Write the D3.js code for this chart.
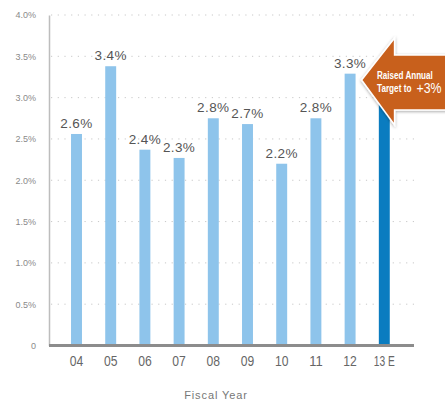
<!DOCTYPE html>
<html>
<head>
<meta charset="utf-8">
<script src="https://cdn.jsdelivr.net/npm/d3@7"></script>
<style>
  html, body { margin: 0; padding: 0; background: #fff; }
  svg { display: block; }
</style>
</head>
<body>
<svg id="chart" width="445" height="402"></svg>
<script>
const categories = ["04", "05", "06", "07", "08", "09", "10", "11", "12", "13 E"];
const values = [2.56, 3.38, 2.37, 2.27, 2.75, 2.68, 2.20, 2.75, 3.29, 3.0];
const labels = ["2.6%", "3.4%", "2.4%", "2.3%", "2.8%", "2.7%", "2.2%", "2.8%", "3.3%", ""];
const estimated = [false, false, false, false, false, false, false, false, false, true];
const yTicks = [0, 0.5, 1.0, 1.5, 2.0, 2.5, 3.0, 3.5, 4.0];
const yTickLabels = ["0", "0.5%", "1.0%", "1.5%", "2.0%", "2.5%", "3.0%", "3.5%", "4.0%"];
const xTitle = "Fiscal Year";
const calloutLines = ["Raised Annual", "Target to"];
const calloutValue = "+3%";

const svg = d3.select("#chart");
const mLeft = 49, mRight = 414, mTop = 15, mBottom = 345.5;

const x = d3.scaleBand().domain(categories).range([59.4, 401.4])
  .paddingInner(0.68).paddingOuter(0.34);
const y = d3.scaleLinear().domain([0, 4]).range([mBottom, mTop]);

// defs: shadow
const defs = svg.append("defs");
const f = defs.append("filter").attr("id", "shadow").attr("x", "-20%").attr("y", "-20%").attr("width", "140%").attr("height", "140%");
f.append("feDropShadow").attr("dx", 0).attr("dy", 1).attr("stdDeviation", 1.8).attr("flood-color", "#000").attr("flood-opacity", 0.35);

// gridlines
svg.append("g").selectAll("line").data(yTicks.filter(d => d > 0)).join("line")
  .attr("x1", mLeft + 2).attr("x2", mRight)
  .attr("y1", d => y(d)).attr("y2", d => y(d))
  .attr("stroke", "#c8c8c8").attr("stroke-width", 1)
  .attr("stroke-dasharray", "1.2,5.5");

// y axis
const yAxis = d3.axisLeft(y).tickValues(yTicks).tickFormat((d, i) => yTickLabels[i]).tickSize(0).tickPadding(13);
const gy = svg.append("g").attr("transform", `translate(${mLeft},0)`).call(yAxis);
gy.select(".domain").attr("stroke", "#bdbdbd").attr("stroke-width", 1.5);
gy.selectAll("text").attr("font-family", "Liberation Sans, Arial, sans-serif")
  .attr("font-size", 9).attr("fill", "#8a8a8a");

// bars
svg.append("g").selectAll("rect").data(categories).join("rect")
  .attr("x", d => x(d))
  .attr("width", x.bandwidth())
  .attr("y", (d, i) => y(values[i]))
  .attr("height", (d, i) => y(0) - y(values[i]))
  .attr("fill", (d, i) => estimated[i] ? "#0a7cc0" : "#8ec4eb");

// value labels
svg.append("g").selectAll("text").data(categories).join("text")
  .attr("x", d => x(d) + x.bandwidth() / 2)
  .attr("y", (d, i) => y(values[i]) - 6)
  .attr("text-anchor", "middle")
  .attr("font-family", "Liberation Sans, Arial, sans-serif")
  .attr("font-size", 13.5)
  .attr("letter-spacing", 0.4)
  .attr("fill", "#555")
  .text((d, i) => labels[i]);

// x axis
const xAxis = d3.axisBottom(x).tickSize(0).tickPadding(10);
const gx = svg.append("g").attr("transform", `translate(0,${mBottom})`).call(xAxis);
gx.select(".domain").remove();
gx.selectAll("text").attr("font-family", "Liberation Sans, Arial, sans-serif")
  .attr("font-size", 15).attr("fill", "#666")
  .attr("lengthAdjust", "spacingAndGlyphs")
  .attr("textLength", d => d.length > 2 ? 21 : 13.5);
svg.append("line").attr("x1", mLeft).attr("x2", mRight).attr("y1", mBottom).attr("y2", mBottom)
  .attr("stroke", "#8c8c8c").attr("stroke-width", 3);

// x title
svg.append("text").attr("x", 216).attr("y", 399)
  .attr("text-anchor", "middle")
  .attr("font-family", "Liberation Sans, Arial, sans-serif")
  .attr("font-size", 11).attr("letter-spacing", 0.9)
  .attr("fill", "#777").text(xTitle);

// callout arrow
const tipX = x("12") + x.bandwidth() + 6;
const tipY = 80;
const headX = tipX + 33;
const arrowPath = [
  [tipX, tipY], [headX, tipY - 42], [headX, tipY - 25], [450, tipY - 25],
  [450, tipY + 30], [headX, tipY + 30], [headX, tipY + 45]
];
svg.append("path")
  .attr("d", d3.line()(arrowPath) + "Z")
  .attr("fill", "#c8601f")
  .attr("stroke", "#fff").attr("stroke-width", 1.5)
  .attr("filter", "url(#shadow)");

const cg = svg.append("g")
  .attr("font-family", "Liberation Sans, Arial, sans-serif")
  .attr("fill", "#fff");
cg.append("text").attr("transform", "translate(377,79) scale(0.77,1)")
  .attr("font-size", 10.5).attr("font-weight", "bold").text(calloutLines[0]);
cg.append("text").attr("transform", "translate(377,92) scale(0.78,1)")
  .attr("font-size", 10.5).attr("font-weight", "bold").text(calloutLines[1]);
cg.append("text").attr("transform", "translate(416.5,92.5) scale(0.88,1)")
  .attr("font-size", 14).text(calloutValue);
</script>
</body>
</html>
